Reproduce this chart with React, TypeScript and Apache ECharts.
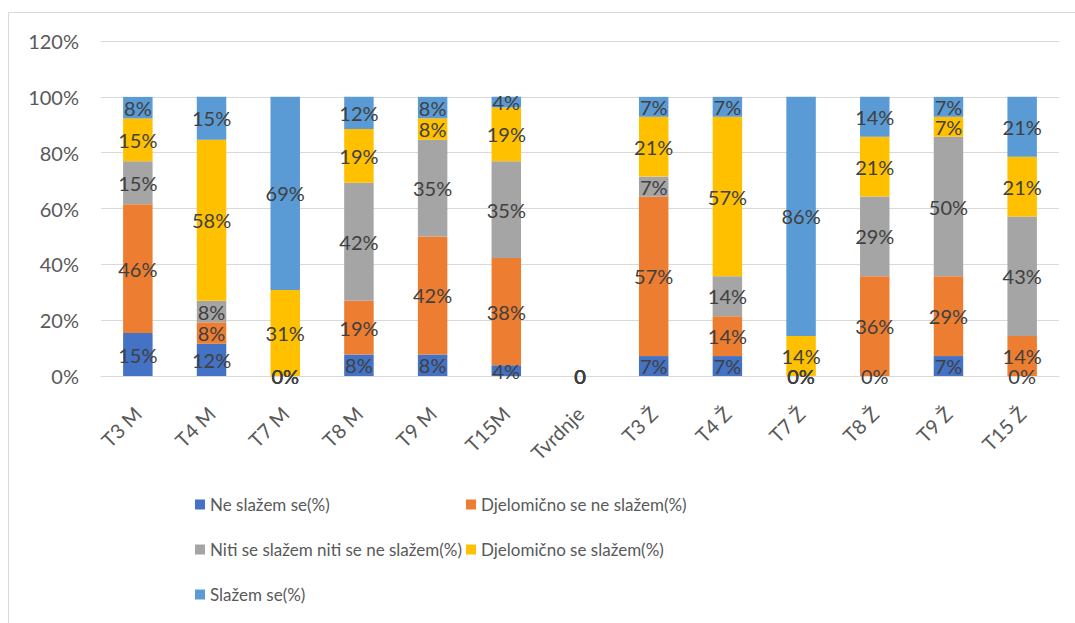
import React, { useEffect, useRef } from "react";
import * as echarts from "echarts";

const categories = ["T3 M", "T4 M", "T7 M", "T8 M", "T9 M", "T15M", "Tvrdnje", "T3 Ž", "T4 Ž", "T7 Ž", "T8 Ž", "T9 Ž", "T15 Ž"];

const neSlazem = [15.38, 11.54, 0, 7.69, 7.69, 3.85, 0, 7.14, 7.14, 0, 0, 7.14, 0];
const djelomicnoNe = [46.15, 7.69, 0, 19.23, 42.31, 38.46, 0, 57.14, 14.29, 0, 35.71, 28.57, 14.29];
const niti = [15.38, 7.69, 0, 42.31, 34.62, 34.62, 0, 7.14, 14.29, 0, 28.57, 50, 42.86];
const djelomicnoDa = [15.38, 57.69, 30.77, 19.23, 7.69, 19.23, 0, 21.43, 57.14, 14.29, 21.43, 7.14, 21.43];
const slazem = [7.69, 15.38, 69.23, 11.54, 7.69, 3.85, 0, 7.14, 7.14, 85.71, 14.29, 7.14, 21.43];

const seriesNames = [
  "Ne slažem se(%)",
  "Djelomično se ne slažem(%)",
  "Niti se slažem niti se ne slažem(%)",
  "Djelomično se slažem(%)",
  "Slažem se(%)",
];
const seriesData = [neSlazem, djelomicnoNe, niti, djelomicnoDa, slazem];
const colors = ["#4472C4", "#ED7D31", "#A5A5A5", "#FFC000", "#5B9BD5"];

const FONT = "Lato";

export default function App() {
  const ref = useRef<HTMLDivElement>(null);
  useEffect(() => {
    document.body.style.margin = "0";
    const chart = echarts.init(ref.current!, null, { renderer: "svg" });
    const legendPos = [
      { left: 195, top: 496 },
      { left: 466, top: 496 },
      { left: 195, top: 541 },
      { left: 466, top: 541 },
      { left: 195, top: 586 },
    ];
    chart.setOption({
      animation: false,
      backgroundColor: "#ffffff",
      textStyle: { fontFamily: FONT },
      graphic: [
        {
          type: "rect",
          shape: { x: 8.5, y: 12.5, width: 1100, height: 700 },
          style: { fill: "none", stroke: "#d9d9d9", lineWidth: 1 },
          silent: true,
        },
      ],
      legend: seriesNames.map((n, i) => ({
        data: [n],
        left: legendPos[i].left,
        top: legendPos[i].top,
        padding: 0,
        itemWidth: 10,
        itemHeight: 10,
        icon: "rect",
        selectedMode: false,
        textStyle: { color: "#595959", fontSize: 17, fontFamily: FONT },
      })),
      grid: { left: 101, right: 16, top: 41, bottom: 247, containLabel: false },
      xAxis: {
        type: "category",
        data: categories,
        axisLine: { show: true, lineStyle: { color: "#d9d9d9", width: 1 } },
        axisTick: { show: false },
        axisLabel: { rotate: 45, color: "#595959", fontSize: 20, margin: 34, fontFamily: FONT },
      },
      yAxis: {
        type: "value",
        min: 0,
        max: 120,
        interval: 20,
        axisLine: { show: false },
        axisTick: { show: false },
        splitLine: { lineStyle: { color: "#d9d9d9", width: 1 } },
        axisLabel: { formatter: "{value}%", color: "#595959", fontSize: 20, margin: 22, fontFamily: FONT },
      },
      series: seriesNames.map((n, i) => ({
        name: n,
        type: "bar",
        stack: "total",
        barWidth: "40%",
        itemStyle: { color: colors[i] },
        data: seriesData[i],
        label: {
          show: true,
          position: "inside",
          color: "#404040",
          fontSize: 20,
          fontFamily: FONT,
          formatter: (p: any) => (p.name === "Tvrdnje" ? "0" : Math.round(p.value) + "%"),
        },
      })),
    });
    return () => chart.dispose();
  }, []);
  return <div ref={ref} style={{ width: 1075, height: 623 }} />;
}
